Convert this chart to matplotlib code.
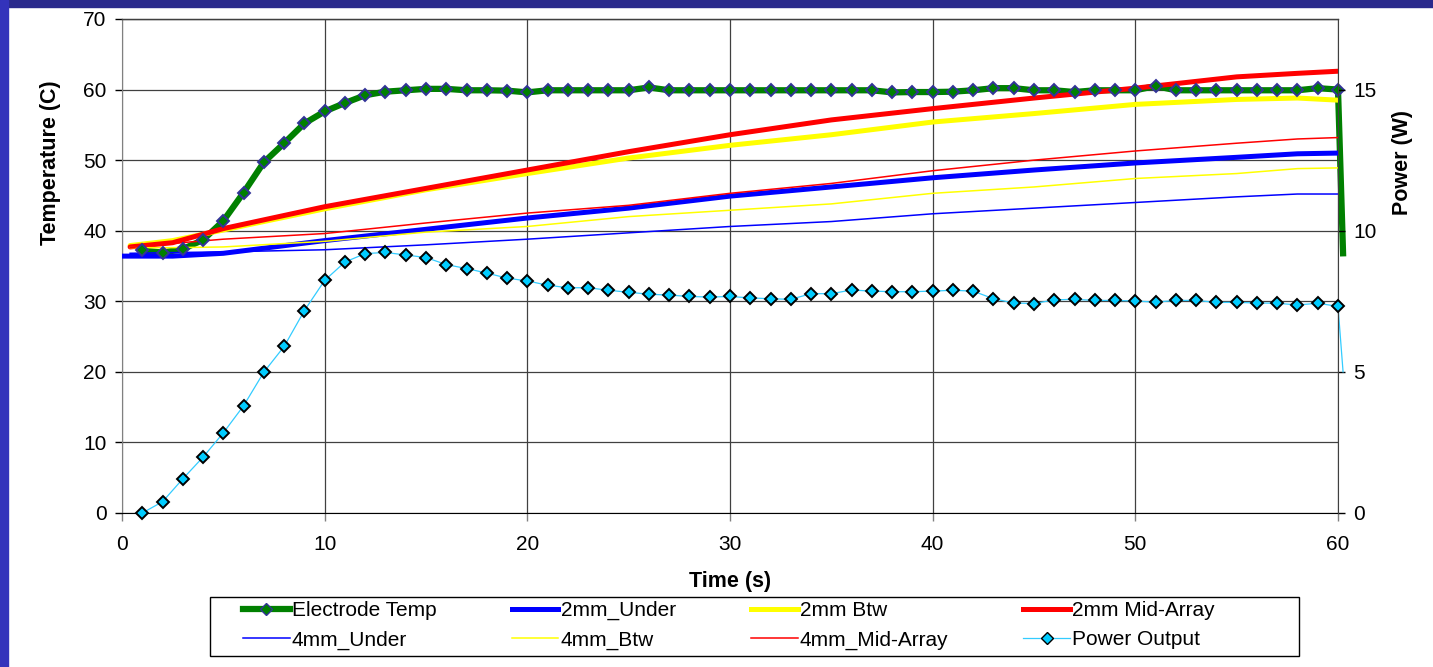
import matplotlib
matplotlib.use("Agg")
import matplotlib.pyplot as plt
from matplotlib.lines import Line2D
from matplotlib.patches import Rectangle

plt.rcParams["font.family"] = ["Liberation Sans", "DejaVu Sans"]

# electrode temp and power output, sampled every second (last sample just past 60 s)
t_marked = list(range(1, 61)) + [60.25]
electrode_temp = [37.2, 36.9, 37.4, 38.7, 41.4, 45.4, 49.7, 52.4, 55.2, 56.9,
                  58.1, 59.2, 59.7, 59.9, 60.1, 60.1, 59.9, 59.9, 59.85, 59.6,
                  59.9, 59.9, 59.9, 59.9, 59.9, 60.3, 59.9, 59.9, 59.9, 59.9,
                  59.9, 59.9, 59.9, 59.9, 59.9, 59.9, 59.9, 59.6, 59.65, 59.65,
                  59.7, 59.9, 60.2, 60.2, 59.9, 59.9, 59.65, 59.9, 59.9, 59.9,
                  60.5, 59.9, 59.9, 59.9, 59.9, 59.9, 59.9, 59.9, 60.2, 60.0,
                  36.8]
power_out = [0.0, 0.40, 1.21, 1.98, 2.84, 3.80, 4.99, 5.90, 7.17, 8.24,
             8.89, 9.19, 9.23, 9.14, 9.05, 8.80, 8.66, 8.50, 8.32, 8.22,
             8.07, 7.98, 7.98, 7.89, 7.82, 7.75, 7.72, 7.67, 7.65, 7.67,
             7.62, 7.59, 7.57, 7.77, 7.77, 7.90, 7.86, 7.84, 7.84, 7.86,
             7.89, 7.86, 7.59, 7.44, 7.42, 7.55, 7.57, 7.53, 7.53, 7.51,
             7.47, 7.53, 7.53, 7.46, 7.46, 7.44, 7.43, 7.37, 7.43, 7.32,
             5.0]

# thermocouple readings (no markers)
t_sensor = [0.4, 2.5, 5, 10, 15, 20, 25, 30, 35, 40, 45, 50, 55, 58, 60]
t_under2 = [0, 2.5, 5, 10, 15, 20, 25, 30, 35, 40, 45, 50, 55, 58, 60]
mm2_under = [36.4, 36.4, 36.8, 38.6, 40.2, 41.8, 43.2, 44.9, 46.2, 47.5, 48.6, 49.6, 50.4, 50.9, 51.0]
mm2_btw = [37.9, 38.6, 40.1, 43.1, 45.8, 48.1, 50.3, 52.1, 53.6, 55.4, 56.6, 57.9, 58.6, 58.8, 58.5]
mm2_mid = [37.7, 38.3, 40.3, 43.4, 46.0, 48.6, 51.2, 53.6, 55.7, 57.3, 58.8, 60.2, 61.8, 62.3, 62.6]
mm4_under = [36.8, 36.9, 37.0, 37.3, 38.0, 38.8, 39.7, 40.6, 41.3, 42.4, 43.2, 44.0, 44.8, 45.2, 45.2]
mm4_btw = [37.6, 37.6, 37.7, 38.5, 39.8, 40.6, 42.0, 42.9, 43.8, 45.3, 46.2, 47.4, 48.1, 48.8, 48.9]
mm4_mid = [37.6, 38.2, 38.8, 39.6, 41.1, 42.5, 43.6, 45.3, 46.7, 48.5, 50.0, 51.3, 52.4, 53.0, 53.2]

GRID = "#404040"
W, H = 1433, 667
MS = 6.5

fig = plt.figure(figsize=(W / 100, H / 100), dpi=100)
fig.patches.append(Rectangle((0, 1 - 7 / H), 1, 7 / H, transform=fig.transFigure,
                             color="#2a2a8c", zorder=-1))
fig.patches.append(Rectangle((0, 0), 8 / W, 1, transform=fig.transFigure,
                             color="#3333bb", zorder=-1))

ax = fig.add_axes([122 / W, 1 - 513 / H, 1216 / W, 494 / H])
ax2 = ax.twinx()

ax.plot(t_marked, electrode_temp, color="#008000", lw=4.5, solid_joinstyle="round",
        clip_on=False, zorder=2)
ax.plot(t_under2, mm2_under, color="#0000ff", lw=3.6, solid_capstyle="round", zorder=3)
ax.plot(t_sensor, mm2_btw, color="#ffff00", lw=3.6, solid_capstyle="round", zorder=3)
ax.plot(t_sensor, mm2_mid, color="#ff0000", lw=3.6, solid_capstyle="round", zorder=3)
ax.plot(t_sensor, mm4_under, color="#0000ff", lw=1.1, zorder=3)
ax.plot(t_sensor, mm4_btw, color="#ffff00", lw=1.1, zorder=3)
ax.plot(t_sensor, mm4_mid, color="#ff0000", lw=1.1, zorder=3)
ax.plot(t_marked[:-1], electrode_temp[:-1], ls="none", marker="D", ms=MS,
        mfc="#008000", mec="#333399", mew=1.4, zorder=4, clip_on=False)

ax2.plot(t_marked, power_out, color="#33ccff", lw=0.9, clip_on=False, zorder=2)
ax2.plot(t_marked[:-1], power_out[:-1], ls="none", marker="D", ms=MS,
         mfc="#00ccff", mec="black", mew=1.4, clip_on=False, zorder=3)

ax.set_xlim(0, 60)
ax.set_ylim(0, 70)
ax2.set_ylim(0, 17.5)
ax.set_xticks(range(0, 61, 10))
ax.set_yticks(range(0, 71, 10))
ax2.set_yticks([0, 5, 10, 15])
ax.grid(True, color=GRID, lw=0.9)
ax.set_axisbelow(True)

for a in (ax, ax2):
    a.spines["top"].set_color(GRID)
    a.spines["top"].set_linewidth(0.9)
ax.spines["left"].set_color("#808080")
ax.spines["bottom"].set_color("black")
ax2.spines["right"].set_color("#404040")
ax2.spines["left"].set_visible(False)
ax2.spines["bottom"].set_visible(False)
ax.spines["right"].set_visible(False)

ax.tick_params(axis="y", length=5, width=1, color="black", pad=6, labelsize=15)
ax.tick_params(axis="x", length=6, width=1, color="#808080", pad=10, labelsize=15)
ax2.tick_params(axis="y", length=5, width=1, color="black", pad=6, labelsize=15)

ax.set_xlabel("Time (s)", fontsize=15.5, fontweight="bold")
ax.xaxis.set_label_coords(0.5, -0.118)
ax.set_ylabel("Temperature (C)", fontsize=15.5, fontweight="bold")
ax.yaxis.set_label_coords(-0.0505, 0.709)
ax2.set_ylabel("Power (W)", fontsize=15.5, fontweight="bold")
ax2.yaxis.set_label_coords(1.0445, 0.709)

handles = [
    Line2D([], [], color="#008000", lw=4.5, marker="D", ms=MS, mfc="#008000", mec="#333399"),
    Line2D([], [], color="#0000ff", lw=1.1),
    Line2D([], [], color="#0000ff", lw=3.6),
    Line2D([], [], color="#ffff00", lw=1.1),
    Line2D([], [], color="#ffff00", lw=3.6),
    Line2D([], [], color="#ff0000", lw=1.1),
    Line2D([], [], color="#ff0000", lw=3.6),
    Line2D([], [], color="#33ccff", lw=0.9, marker="D", ms=MS, mfc="#00ccff", mec="black"),
]
labels = ["Electrode Temp", "4mm_Under", "2mm_Under", "4mm_Btw",
          "2mm Btw", "4mm_Mid-Array", "2mm Mid-Array", "Power Output"]

# legend box drawn separately so the entries can sit inside it like Excel's
fig.patches.append(Rectangle((210 / W, 1 - 656 / H), 1089 / W, 59 / H,
                             transform=fig.transFigure, fill=False,
                             edgecolor="black", lw=1.0, zorder=5))
fig.legend(handles, labels, ncol=4, loc="upper left",
           bbox_to_anchor=(243 / W, 1 - 601 / H),
           fontsize=15, frameon=False,
           handlelength=2.25, handletextpad=0.1, labelspacing=0.5,
           columnspacing=3.6, borderpad=0, borderaxespad=0)

fig.savefig("out.png", dpi=100, facecolor="white")
